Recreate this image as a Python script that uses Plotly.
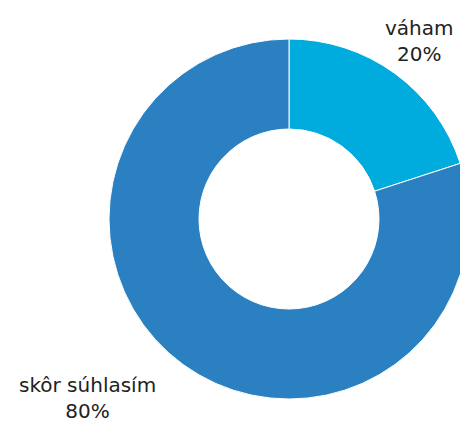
import plotly.graph_objects as go

labels = ["váham", "skôr súhlasím"]
values = [20, 80]
colors = ["#00ABDD", "#2A80C0"]

fig = go.Figure()
fig.add_trace(go.Pie(
    labels=labels,
    values=values,
    hole=0.5,
    sort=False,
    direction="clockwise",
    rotation=0,
    marker=dict(colors=colors, line=dict(color="white", width=1)),
    textinfo="none",
    hoverinfo="label+percent",
    showlegend=False,
    domain=dict(x=[0, 1], y=[0, 1]),
))

W, H = 480, 424
L, R, T, B = 109, 469, 39, 399
total = sum(values)
label_pos = [(419, 41), (87, 398)]
for (lab, val), (px, py) in zip(zip(labels, values), label_pos):
    fig.add_annotation(
        x=(px - L) / (R - L), y=(B - py) / (B - T), xref="paper", yref="paper",
        xanchor="center", yanchor="middle", showarrow=False,
        text=f"{lab}<br>{round(val / total * 100)}%",
        font=dict(family="DejaVu Sans", size=20, color="#222222"),
        align="center",
    )

fig.update_layout(
    width=W, height=H,
    margin=dict(l=L, r=W - R, t=T, b=H - B),
    paper_bgcolor="white", plot_bgcolor="white",
)

fig.write_html(
    "out.html",
    config={"displayModeBar": False},
    post_script="document.body.style.margin='0';document.body.style.overflow='hidden';document.documentElement.style.overflow='hidden';",
)
